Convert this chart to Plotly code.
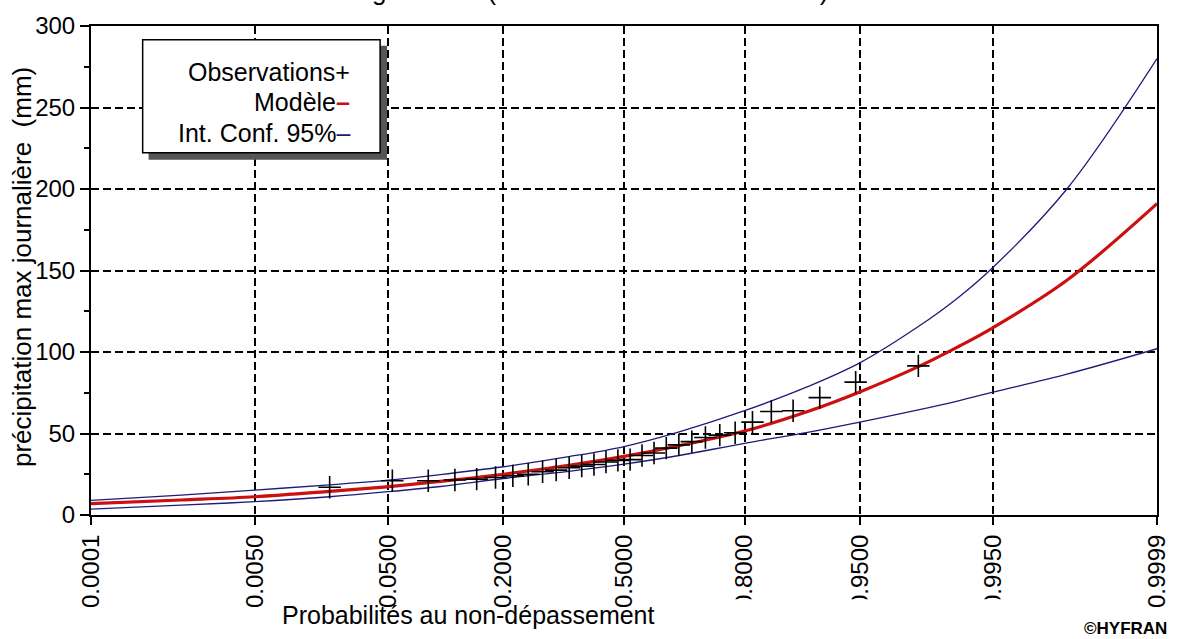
import plotly.graph_objects as go
from statistics import NormalDist

# ---- data -------------------------------------------------------------
# non-exceedance probabilities at which the fitted curves are drawn
prob_curve = [0.0001, 0.001, 0.005, 0.02, 0.05, 0.1, 0.2, 0.35, 0.5, 0.65,
              0.8, 0.9, 0.95, 0.98, 0.99, 0.995, 0.999, 0.9999]
model_mm = [7.0, 9.2, 11.2, 14.5, 17.4, 20.6, 25.0, 30.5, 36.0, 42.5,
            51.5, 63.5, 75.5, 91.0, 103.0, 115.0, 144.0, 191.0]
upper_mm = [9.0, 12.2, 15.3, 18.5, 21.4, 24.8, 29.6, 35.8, 42.0, 51.0,
            64.0, 78.7, 93.3, 115.6, 133.0, 152.0, 200.0, 280.0]
lower_mm = [3.6, 6.0, 8.2, 11.2, 14.3, 17.5, 22.4, 26.8, 31.2, 36.5,
            44.0, 50.7, 57.0, 64.5, 69.9, 75.4, 86.4, 102.0]

# observed annual maxima with their empirical probabilities
prob_obs = [0.020, 0.053, 0.086, 0.119, 0.152, 0.185, 0.219, 0.252, 0.285, 0.318,
            0.351, 0.384, 0.417, 0.450, 0.483, 0.517, 0.550, 0.583, 0.616, 0.649,
            0.682, 0.715, 0.748, 0.781, 0.815, 0.848, 0.881, 0.914, 0.947, 0.980]
obs_mm = [17.0, 21.0, 21.0, 21.5, 22.0, 23.0, 24.0, 25.0, 26.5, 27.5,
          29.0, 30.0, 31.0, 32.5, 33.5, 34.0, 36.5, 38.0, 41.0, 43.0,
          45.0, 47.5, 49.0, 50.5, 57.0, 63.5, 64.0, 72.0, 81.5, 91.5]

tick_probs = [0.0001, 0.005, 0.05, 0.2, 0.5, 0.8, 0.95, 0.995, 0.9999]
tick_labels = ["0.0001", "0.0050", "0.0500", "0.2000", "0.5000",
               "0.8000", "0.9500", "0.9950", "0.9999"]

# ---- normal probability scale -----------------------------------------
nd = NormalDist()
zq = nd.inv_cdf
z_curve = [zq(p) for p in prob_curve]
z_obs = [zq(p) for p in prob_obs]
z_ticks = [zq(p) for p in tick_probs]

W, H = 1182, 639
ML, MR, MT, MB = 91, 18, 21, 124
PW, PH = W - ML - MR, H - MT - MB


def px_x(px):
    return (px - ML) / PW


def px_y(py):
    return (H - MB - py) / PH


FONT = "Liberation Sans, Arial, sans-serif"
NAVY = "#1c1c7a"
RED = "#cc0f0f"

fig = go.Figure()
fig.add_trace(go.Scatter(x=z_curve, y=lower_mm, mode="lines",
                         line=dict(color=NAVY, width=1.3, shape="spline"),
                         hoverinfo="skip"))
fig.add_trace(go.Scatter(x=z_curve, y=upper_mm, mode="lines",
                         line=dict(color=NAVY, width=1.3, shape="spline"),
                         hoverinfo="skip"))
fig.add_trace(go.Scatter(x=z_curve, y=model_mm, mode="lines",
                         line=dict(color=RED, width=3.2, shape="spline"),
                         hoverinfo="skip"))
fig.add_trace(go.Scatter(x=z_obs, y=obs_mm, mode="markers",
                         marker=dict(symbol="cross-thin", size=16,
                                     line=dict(width=1.6, color="black"))))

axis_common = dict(
    showline=True, linecolor="black", linewidth=2, mirror=True,
    showgrid=True, gridcolor="black", gridwidth=1.6, griddash="8px,4px",
    zeroline=False, ticks="outside", tickcolor="black", tickwidth=2,
    tickfont=dict(family=FONT, size=24, color="black"),
)

fig.update_xaxes(range=[z_ticks[0], z_ticks[-1]], tickvals=z_ticks,
                 ticktext=tick_labels, tickangle=-90, ticklen=8,
                 **axis_common)
fig.update_yaxes(range=[0, 300], tick0=0, dtick=50, ticklen=9,
                 minor=dict(dtick=25, ticks="outside", ticklen=5,
                            tickwidth=1.5, tickcolor="black", showgrid=False),
                 **axis_common)

shapes = [
    # white strip hiding the lower part of some tick labels
    dict(type="rect", xref="paper", yref="paper", layer="above",
         x0=px_x(738), x1=px_x(1012), y0=px_y(600), y1=px_y(H + 5),
         fillcolor="white", line=dict(width=0)),
    # legend shadow
    dict(type="rect", xref="paper", yref="paper", layer="above",
         x0=px_x(149), x1=px_x(389), y0=px_y(156), y1=px_y(41),
         fillcolor="#555555", line=dict(width=0)),
    # legend box
    dict(type="rect", xref="paper", yref="paper", layer="above",
         x0=px_x(143), x1=px_x(382), y0=px_y(149), y1=px_y(35),
         fillcolor="white", line=dict(color="black", width=1.5)),
]

annotations = [
    dict(text="Observations+", x=px_x(354), y=px_y(67)),
    dict(text=f"Modèle<span style='color:{RED}'><b>–</b></span>",
         x=px_x(354), y=px_y(98)),
    dict(text=f"Int. Conf. 95%<span style='color:{NAVY}'>–</span>",
         x=px_x(354), y=px_y(129)),
]
for a in annotations:
    a.update(xref="paper", yref="paper", xanchor="right", yanchor="middle",
             showarrow=False, font=dict(family=FONT, size=25, color="black"))

annotations += [
    dict(text="précipitation max journalière  (mm)", textangle=-90,
         x=px_x(21), y=px_y(264), xref="paper", yref="paper",
         xanchor="center", yanchor="middle", showarrow=False,
         font=dict(family=FONT, size=26, color="black")),
    dict(text="Probabilités au non-dépassement",
         x=px_x(471), y=px_y(616), xref="paper", yref="paper",
         xanchor="center", yanchor="middle", showarrow=False,
         font=dict(family=FONT, size=25, color="black")),
    dict(text="<b>©HYFRAN</b>",
         x=px_x(1176), y=px_y(630), xref="paper", yref="paper",
         xanchor="right", yanchor="middle", showarrow=False,
         font=dict(family=FONT, size=17, color="black")),
    # chart title, lying above the top edge of the page
    dict(text="Lognormale (Maximum de vraisemblance)",
         x=px_x(343), y=px_y(3), xref="paper", yref="paper",
         xanchor="left", yanchor="bottom", showarrow=False,
         font=dict(family=FONT, size=26, color="black")),
]

fig.update_layout(
    width=W, height=H, margin=dict(l=ML, r=MR, t=MT, b=MB),
    plot_bgcolor="white", paper_bgcolor="white", showlegend=False,
    font=dict(family=FONT, color="black"),
    shapes=shapes, annotations=annotations,
)

fig.write_html("out.html")
